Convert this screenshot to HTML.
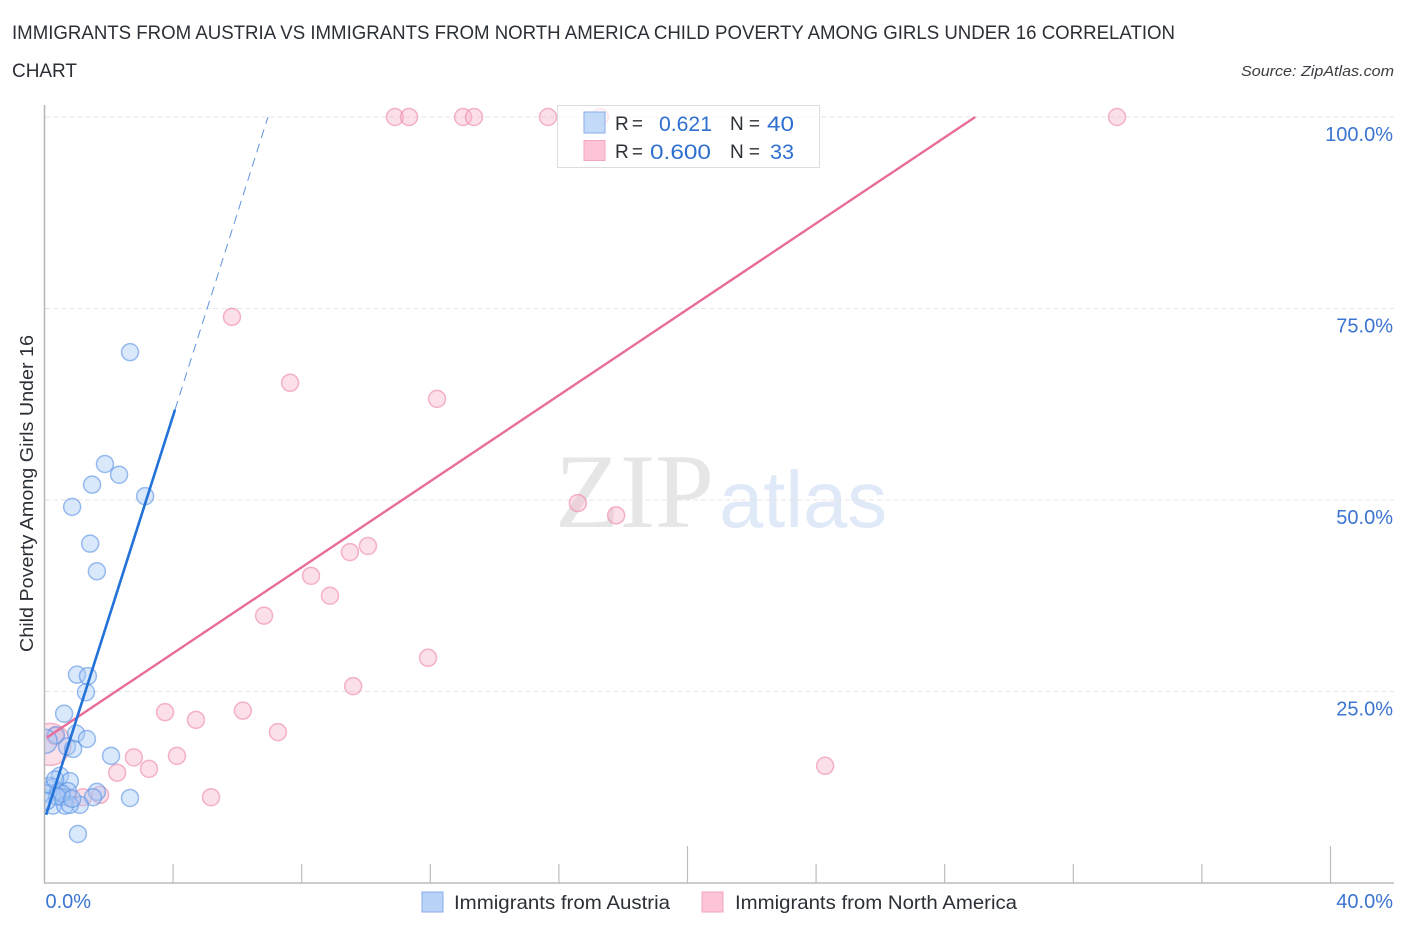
<!DOCTYPE html>
<html lang="en">
<head>
<meta charset="utf-8">
<title>Child Poverty Among Girls Under 16 Correlation Chart</title>
<style>
html,body{margin:0;padding:0;background:#fff;width:1406px;height:930px;overflow:hidden}
svg{display:block}
text{font-family:"Liberation Sans",sans-serif}
</style>
</head>
<body>
<svg id="chart" width="1406" height="930" viewBox="0 0 1406 930" xmlns="http://www.w3.org/2000/svg">
  <rect x="0" y="0" width="1406" height="930" fill="#ffffff"/>

  <text x="12" y="39" font-size="19" fill="#2b2f36" textLength="1163" lengthAdjust="spacingAndGlyphs">IMMIGRANTS FROM AUSTRIA VS IMMIGRANTS FROM NORTH AMERICA CHILD POVERTY AMONG GIRLS UNDER 16 CORRELATION</text>
  <text x="12" y="77" font-size="19" fill="#2b2f36" textLength="65" lengthAdjust="spacingAndGlyphs">CHART</text>
  <text x="1241" y="76" font-size="15" font-style="italic" fill="#3a3d42" textLength="153" lengthAdjust="spacingAndGlyphs">Source: ZipAtlas.com</text>

  <g>
    <text x="555" y="527" font-size="106" fill="#e6e6e6" style="font-family:'Liberation Serif',serif" textLength="159" lengthAdjust="spacingAndGlyphs">ZIP</text>
    <text x="719" y="527" font-size="80" fill="#dfe9f8" textLength="168" lengthAdjust="spacingAndGlyphs">atlas</text>
  </g>

  <g id="grid"></g>
  <g id="points"></g>
  <rect x="0" y="90" width="44.5" height="800" fill="#ffffff"/>
  <g id="axes"></g>
  <g id="trends"></g>
  <g id="ticklabels"></g>

  <text transform="translate(33,652) rotate(-90)" font-size="18.5" fill="#2b2f36" textLength="317" lengthAdjust="spacingAndGlyphs">Child Poverty Among Girls Under 16</text>

  <g>
    <rect x="557.5" y="105.5" width="262" height="62" fill="#ffffff" fill-opacity="0.7" stroke="#dddddd" stroke-width="1"/>
    <rect x="584" y="112" width="21" height="21" fill="#b9d3f8" fill-opacity="0.85" stroke="#85aee9" stroke-width="1"/>
    <rect x="584" y="140.5" width="21" height="20" fill="#fcc4d6" stroke="#f2a5be" stroke-width="1"/>
    <text x="615" y="130" font-size="19" fill="#2b2f36" textLength="28">R =</text>
    <text x="659" y="131" font-size="21" fill="#2f6fd0" textLength="53" lengthAdjust="spacingAndGlyphs">0.621</text>
    <text x="730" y="130" font-size="19" fill="#2b2f36" textLength="30">N =</text>
    <text x="767" y="131" font-size="21" fill="#2f6fd0" textLength="27" lengthAdjust="spacingAndGlyphs">40</text>
    <text x="615" y="158" font-size="19" fill="#2b2f36" textLength="28">R =</text>
    <text x="650" y="159" font-size="21" fill="#2f6fd0" textLength="61" lengthAdjust="spacingAndGlyphs">0.600</text>
    <text x="730" y="158" font-size="19" fill="#2b2f36" textLength="30">N =</text>
    <text x="770" y="159" font-size="21" fill="#2f6fd0" textLength="24" lengthAdjust="spacingAndGlyphs">33</text>
  </g>

  <g>
    <rect x="422" y="892" width="21" height="20" fill="#b9d3f8" stroke="#85aee9" stroke-width="1"/>
    <text x="454" y="909" font-size="19.5" fill="#2b2f36" textLength="216" lengthAdjust="spacingAndGlyphs">Immigrants from Austria</text>
    <rect x="702" y="892" width="21" height="20" fill="#fcc4d6" stroke="#f2a5be" stroke-width="1"/>
    <text x="735" y="909" font-size="19.5" fill="#2b2f36" textLength="282" lengthAdjust="spacingAndGlyphs">Immigrants from North America</text>
  </g>
</svg>
<script>
// Categories and axis data
const xTickValues = [0, 4, 8, 12, 16, 20, 24, 28, 32, 36, 40];
const xMajorTicks = [20, 40];
const yTickValues = [25, 50, 75, 100];
const yTickLabels = ["25.0%", "50.0%", "75.0%", "100.0%"];
const xEdgeValues = [0, 40];
const xEdgeLabels = ["0.0%", "40.0%"];

// Immigrants from Austria (x = share %, y = poverty %)
const austriaX = [2.66,1.88,2.32,1.48,3.13,0.86,1.42,1.63,1.01,1.35,1.29,0.61,0.98,0.36,1.32,0.70,0.89,2.07,0.48,0.79,0.17,0.26,0.42,0.73,1.63,2.66,1.51,0.11,0.54,1.10,0.26,0.64,0.79,1.04,0.02,0.54,0.39,0.08,0.33,0.86];
const austriaY = [69.3,54.7,53.3,52.0,50.5,49.1,44.3,40.7,27.2,27.0,24.9,22.1,19.5,19.3,18.8,17.8,17.5,16.6,14.0,13.3,12.7,12.5,11.9,12.0,11.9,11.1,11.2,11.7,11.2,10.2,10.1,10.1,10.2,6.4,18.5,11.7,11.3,10.7,13.5,11.0];
const austriaWeight = [1,1,1,1,1,1,1,1,1,1,1,1,1,1,1,1,1,1,1,1,1,1,1,1,1,1,1,1,1,1,1,1,1,1,2,1,1,1,1,1];

// Immigrants from North America
const northAmericaX = [5.83,7.64,12.21,16.59,17.78,10.06,9.50,8.29,8.88,6.83,11.93,9.60,3.75,6.17,4.71,7.26,2.78,4.12,3.25,2.26,24.28,5.18,1.73,1.20,0.73,10.90,11.34,13.02,13.36,15.66,17.28,33.36,0.17,0.33];
const northAmericaY = [73.9,65.3,63.2,49.6,48.0,44.0,43.2,40.1,37.5,34.9,29.4,25.7,22.3,22.5,21.3,19.7,16.4,16.6,14.9,14.4,15.3,11.2,11.5,11.2,11.2,100,100,100,100,100,100,100,18.1,19.2];
const northAmericaWeight = [1,1,1,1,1,1,1,1,1,1,1,1,1,1,1,1,1,1,1,1,1,1,1,1,1,1,1,1,1,1,1,1,6.1,1];

// Trend lines: [start, end of observed range, top of plot]
const austriaTrendX = [0.05, 4.06, 6.95];
const austriaTrendY = [8.9, 61.8, 100];
const northAmericaTrendX = [0.08, 28.95];
const northAmericaTrendY = [19.0, 100];

const NS = 'http://www.w3.org/2000/svg';
function xScale(v){ return 44.5 + v * 32.15; }
function yScale(v){ return 883 - v * 7.66; }
function make(tag, attrs, parent){
  const el = document.createElementNS(NS, tag);
  for (const k in attrs) el.setAttribute(k, attrs[k]);
  parent.appendChild(el);
  return el;
}

const grid = document.getElementById('grid');
const axes = document.getElementById('axes');
const points = document.getElementById('points');
const trends = document.getElementById('trends');
const tickLabels = document.getElementById('ticklabels');

yTickValues.forEach(function(v, i){
  const line = make('line', {x1:45, x2:1394, y1:yScale(v), y2:yScale(v), stroke:'#e4e4e4', 'stroke-width':1, 'stroke-dasharray':'5 3'}, grid);
  
  
  const label = make('text', {x:1393, y:yScale(v) + 24, 'text-anchor':'end', 'font-size':20, fill:'#3b74d1'}, tickLabels);
  label.textContent = yTickLabels[i];
  
  
});

const yAxisLine = make('line', {x1:44.5, x2:44.5, y1:105, y2:883, stroke:'#b5b5b5', 'stroke-width':1.5}, axes);


const xAxisLine = make('line', {x1:44, x2:1394, y1:883, y2:883, stroke:'#bcbcbc', 'stroke-width':1.5}, axes);



xTickValues.forEach(function(v){
  if (v === 0) return;
  const top = xMajorTicks.indexOf(v) >= 0 ? 846 : 864;
  const tick = make('line', {x1:xScale(v), x2:xScale(v), y1:top, y2:883, stroke:'#bcbcbc', 'stroke-width':1.2}, axes);
  
  
});

xEdgeValues.forEach(function(v, i){
  const attrs = i === 0
    ? {x:xScale(v) + 1, y:908, 'text-anchor':'start', 'font-size':20, fill:'#3b74d1'}
    : {x:1393, y:908, 'text-anchor':'end', 'font-size':20, fill:'#3b74d1'};
  const label = make('text', attrs, tickLabels);
  label.textContent = xEdgeLabels[i];
  
  
});

function drawSeries(xs, ys, ws, fill, stroke, name){
  xs.forEach(function(x, i){
    const c = make('circle', {
      cx: xScale(x), cy: yScale(ys[i]), r: 8.5 * Math.sqrt(ws[i]),
      fill: fill, 'fill-opacity': 0.42, stroke: stroke, 'stroke-opacity': 0.6, 'stroke-width': 1.5
    }, points);
    
    
  });
}
drawSeries(northAmericaX, northAmericaY, northAmericaWeight, '#f8b4ca', '#ec85a8', 'point-north-america');
drawSeries(austriaX, austriaY, austriaWeight, '#a6c8f5', '#5a93e4', 'point-austria');

function drawLine(xs, ys, from, to, attrs, name){
  const base = {x1:xScale(xs[from]), y1:yScale(ys[from]), x2:xScale(xs[to]), y2:yScale(ys[to])};
  for (const k in attrs) base[k] = attrs[k];
  const line = make('line', base, trends);
  
  
}
drawLine(northAmericaTrendX, northAmericaTrendY, 0, 1, {stroke:'#e96d9b', 'stroke-width':2.4}, 'trend-line-north-america');
drawLine(austriaTrendX, austriaTrendY, 0, 1, {stroke:'#2272d8', 'stroke-width':2.6}, 'trend-line-austria');
drawLine(austriaTrendX, austriaTrendY, 1, 2, {stroke:'#5f93de', 'stroke-width':1, 'stroke-dasharray':'9 6'}, 'trend-line-austria-projection');
</script>
</body>
</html>
